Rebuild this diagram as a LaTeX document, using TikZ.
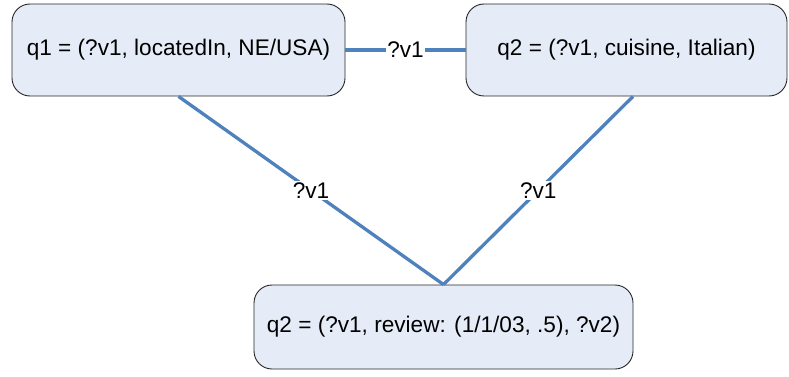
\documentclass[tikz,border=0pt]{standalone}
\usepackage{fontspec}
\setmainfont{Liberation Sans}
\definecolor{linkblue}{RGB}{79,129,189}
\definecolor{boxfill}{RGB}{230,236,247}
\tikzset{
  query/.style={draw=black!85, line width=0.9pt, fill=boxfill, rounded corners=18pt,
    font=\fontsize{22.6}{27}\selectfont, align=center, inner sep=0pt},
  link/.style={draw=linkblue, line width=3.3pt},
  varlabel/.style={fill=white, inner sep=1.5pt, font=\fontsize{22.6}{27}\selectfont}
}
\begin{document}
\begin{tikzpicture}[x=1pt,y=-1pt]
  \useasboundingbox (0,0) rectangle (789,377);
  \node[query, minimum width=333pt, minimum height=92pt] (q1) at (178.5,50)
    {q1 = (?v1, locatedIn, NE/USA)};
  \node[query, minimum width=321pt, minimum height=92pt] (q2) at (626.5,50)
    {q2 = (?v1, cuisine, Italian)};
  \node[query, minimum width=379pt, minimum height=84pt] (q3) at (443.5,327)
    {q2 = (?v1, review: (1/1/03, .5), ?v2)};
  \draw[link] (q1.east) -- node[varlabel] (l12) {?v1} (q2.west);
  \draw[link] (q1.south) -- node[varlabel] (l13) {?v1} (q3.north);
  \draw[link] ([xshift=6.5pt]q2.south) -- node[varlabel] (l23) {?v1} (q3.north);
\end{tikzpicture}
\end{document}
